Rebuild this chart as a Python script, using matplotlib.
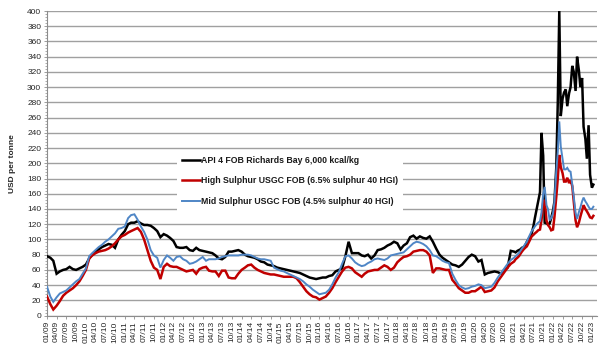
#!/usr/bin/env python3
"""
Coal price chart: API 4 Richards Bay vs. USGC FOB (high / mid sulphur).
Monthly values 2009-2020, semi-monthly from 2021 (spikes need more points).
"""

import pandas as pd
import matplotlib
matplotlib.use('Agg')
import matplotlib.pyplot as plt
from matplotlib.ticker import MultipleLocator

# --- data (USD per tonne) -------------------------------------------------
# monthly, Jan 2009 .. Dec 2020
api4_monthly = [
    78, 76, 72, 55, 58, 60, 61, 64, 61, 60, 62, 64,
    67, 75, 80, 84, 87, 90, 92, 94, 93, 89, 100, 106,
    111, 120, 122, 122, 124, 121, 119, 119, 118, 115, 111, 103,
    107, 105, 102, 98, 90, 89, 89, 90, 86, 85, 89, 86,
    85, 84, 83, 82, 79, 75, 74, 77, 84, 84, 85, 86,
    84, 80, 78, 77, 76, 74, 71, 70, 67, 66, 65, 63,
    62, 61, 60, 59, 58, 57, 56, 54, 52, 50, 49, 48,
    49, 50, 50, 52, 53, 58, 60, 62, 78, 97, 82, 82,
    82, 79, 78, 80, 75, 79, 86, 87, 89, 92, 94, 97,
    95, 87, 92, 95, 103, 105, 101, 104, 102, 101, 104, 97,
    88, 80, 76, 73, 70, 67, 66, 64, 67, 72, 77, 80,
    78, 71, 73, 54, 56, 57, 58, 57, 55, 60, 63, 85,
]
high_s_monthly = [
    25, 15, 8, 13, 19, 26, 30, 33, 36, 40, 45, 52,
    60, 75, 79, 82, 84, 85, 86, 88, 91, 95, 100, 104,
    106, 109, 111, 113, 115, 110, 100, 86, 72, 63, 60, 48,
    64, 68, 65, 64, 64, 62, 60, 58, 59, 60, 55, 61,
    63, 64, 59, 58, 58, 52, 59, 59, 50, 49, 49, 55,
    60, 63, 66, 67, 63, 60, 58, 56, 55, 54, 54, 53,
    52, 51, 51, 51, 51, 49, 44, 38, 32, 28, 25, 24,
    21, 23, 25, 30, 36, 44, 51, 58, 63, 64, 62, 57,
    54, 51, 55, 58, 59, 60, 60, 63, 66, 64, 60, 63,
    70, 74, 77, 78, 80, 84, 85, 86, 86, 84, 79, 56,
    62, 62, 61, 60, 60, 47, 42, 36, 33, 30, 30, 32,
    32, 35, 38, 31, 32, 33, 37, 45, 51, 57, 63, 68,
]
mid_s_monthly = [
    38, 25, 18, 24, 29, 31, 33, 37, 41, 45, 48, 55,
    62, 78, 82, 86, 90, 93, 97, 100, 104, 108, 114, 115,
    117, 128, 132, 133, 126, 117, 110, 100, 86, 79, 76, 63,
    73, 79, 76, 72, 77, 78, 74, 72, 68, 69, 71, 74,
    77, 72, 74, 74, 74, 75, 77, 78, 79, 79, 79, 79,
    80, 80, 80, 79, 77, 75, 74, 74, 73, 72, 63, 61,
    59, 58, 56, 54, 52, 50, 48, 45, 41, 38, 34, 31,
    28, 29, 30, 34, 41, 50, 57, 68, 78, 79, 75, 70,
    67, 65, 66, 69, 71, 74, 75, 74, 73, 75, 79, 80,
    81, 82, 83, 87, 91, 95, 97, 96, 94, 91, 86, 79,
    78, 75, 72, 70, 69, 55, 47, 40, 37, 35, 36, 38,
    39, 41, 40, 36, 37, 38, 43, 50, 56, 62, 68, 73,
]

# semi-monthly (1st / 15th), Jan 2021 .. Jan 2023
api4_semi = [
    84, 83, 85, 86, 87, 89, 90, 92, 97, 100,
    104, 108, 117, 128, 140, 150, 162, 240, 210, 122,
    121, 120, 121, 128, 138, 150, 195, 280, 400, 262,
    285, 293, 297, 275, 292, 300, 328, 320, 295, 340,
    322, 300, 312, 248, 232, 206, 250, 185, 168, 172,
]
high_s_semi = [
    71, 74, 76, 78, 81, 84, 87, 89, 91, 95,
    100, 104, 106, 108, 110, 112, 113, 125, 148, 152,
    125, 119, 116, 112, 113, 130, 156, 180, 211, 195,
    187, 176, 176, 181, 174, 178, 170, 150, 125, 116,
    122, 130, 138, 145, 140, 137, 133, 129, 128, 131,
]
mid_s_semi = [
    76, 78, 80, 82, 85, 88, 91, 94, 97, 102,
    107, 111, 114, 117, 120, 122, 124, 135, 160, 169,
    145, 140, 125, 128, 134, 150, 190, 215, 255, 222,
    205, 192, 192, 194, 190, 189, 172, 156, 135, 127,
    136, 142, 150, 155, 150, 147, 143, 140, 140, 143,
]

SERIES_LABELS = [
    'API 4 FOB Richards Bay 6,000 kcal/kg',
    'High Sulphur USGC FOB (6.5% sulphur 40 HGI)',
    'Mid Sulphur USGC FOB (4.5% sulphur 40 HGI)',
]
SERIES_COLORS = ['#000000', '#c00000', '#4f86c6']
SERIES_WIDTHS = [1.8, 1.8, 1.4]

GRID_COLOR = '#a0a0a0'
TEXT_COLOR = '#262626'


def build_frame():
    dates = list(pd.date_range('2009-01-01', periods=len(api4_monthly), freq='MS'))
    dates += list(pd.date_range('2021-01-01', periods=len(api4_semi), freq='SMS'))
    return pd.DataFrame({
        'date': dates,
        'api4': api4_monthly + api4_semi,
        'high_s': high_s_monthly + high_s_semi,
        'mid_s': mid_s_monthly + mid_s_semi,
    })


def main():
    plt.rcParams['font.family'] = ['Liberation Sans', 'DejaVu Sans']
    df = build_frame()

    fig = plt.figure(figsize=(6.0, 3.55), dpi=100)
    ax = fig.add_axes([0.078, 0.111, 0.917, 0.858])

    for col, label, color, lw in zip(['api4', 'high_s', 'mid_s'], SERIES_LABELS,
                                     SERIES_COLORS, SERIES_WIDTHS):
        ax.plot(df['date'], df[col], color=color, linewidth=lw, label=label,
                solid_joinstyle='miter', zorder=3)

    # eixos
    ax.set_ylim(0, 400)
    ax.yaxis.set_major_locator(MultipleLocator(20))
    ax.yaxis.set_minor_locator(MultipleLocator(4))
    ax.set_xlim(pd.Timestamp('2008-12-30'), pd.Timestamp('2023-02-18'))

    ticks = pd.date_range('2009-01-01', '2023-01-01', freq='3MS')
    ax.set_xticks(ticks)
    ax.set_xticklabels([t.strftime('%m/%y') for t in ticks], rotation=90)
    ax.xaxis.set_minor_locator(plt.NullLocator())

    ax.grid(True, axis='y', color=GRID_COLOR, linewidth=1.0, zorder=0)
    ax.set_axisbelow(True)
    for side in ['top', 'right']:
        ax.spines[side].set_visible(False)
    for side in ['left', 'bottom']:
        ax.spines[side].set_color('#8c8c8c')
        ax.spines[side].set_linewidth(0.8)

    ax.tick_params(axis='both', which='major', labelsize=6, colors='#8c8c8c',
                   labelcolor=TEXT_COLOR, length=2.5, width=0.6, pad=1.5)
    ax.tick_params(axis='y', which='minor', length=1.5, width=0.5, colors='#8c8c8c')

    ax.set_ylabel('USD per tonne', fontsize=6, fontweight='bold', color=TEXT_COLOR,
                  labelpad=8)

    leg = ax.legend(loc='upper left', bbox_to_anchor=(0.228, 0.556), fontsize=6.3,
                    frameon=True, fancybox=False, framealpha=1, borderpad=0.6,
                    handlelength=2.1, handletextpad=0.1, labelspacing=1.3)
    leg.get_frame().set_edgecolor('none')
    leg.get_frame().set_facecolor('white')
    for txt in leg.get_texts():
        txt.set_fontweight('bold')
        txt.set_color('#1a1a1a')

    fig.savefig('out.png', dpi=100)
    plt.close(fig)


if __name__ == '__main__':
    main()
